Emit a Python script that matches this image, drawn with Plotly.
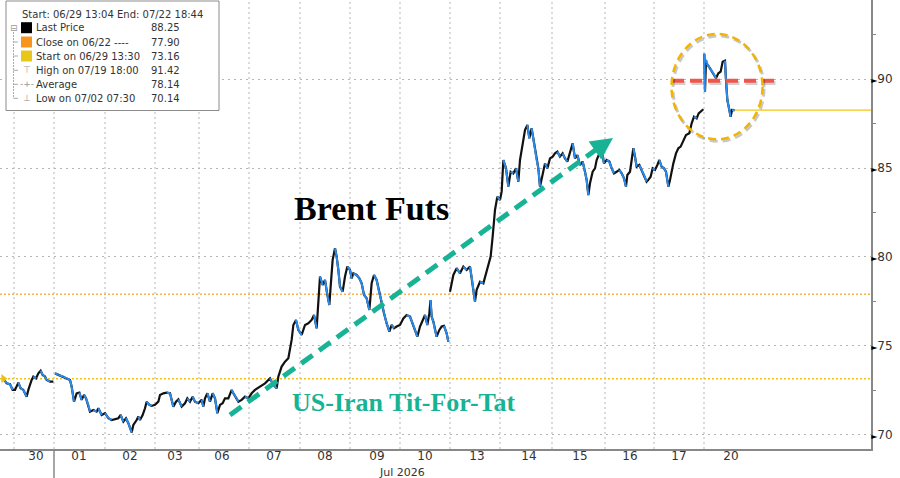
import plotly.graph_objects as go

# ---- data (trading-day position, price) ----
# day boundaries sit on integers: 30 -> [0,1), 01 -> [1,2) ... 20 -> [14,15)
t_jun30 = [-0.013, 0.053, 0.12, 0.173, 0.22, 0.287, 0.333, 0.387, 0.453, 0.487,
           0.553, 0.587, 0.64, 0.687, 0.733, 0.773, 0.82, 0.853, 0.92, 0.987]
p_jun30 = [73.16, 72.90, 72.85, 72.53, 72.53, 72.94, 72.62, 72.53, 72.15, 72.53,
           73.09, 73.28, 73.18, 73.46, 73.61, 73.37, 73.28, 73.09, 73.00, 73.00]

t_wk1 = [1.02, 1.087, 1.187, 1.253, 1.32, 1.353, 1.40, 1.453, 1.507, 1.553,
         1.60, 1.64, 1.687, 1.72, 1.787, 1.853, 1.887, 1.953, 2.02, 2.087,
         2.153, 2.22, 2.287, 2.333, 2.387, 2.44, 2.487, 2.553, 2.587, 2.653,
         2.687, 2.72, 2.773, 2.82, 2.853, 2.907, 2.953, 3.02, 3.087, 3.12,
         3.187, 3.253, 3.32, 3.353, 3.387, 3.44, 3.487, 3.553, 3.62, 3.667,
         3.72, 3.773, 3.82, 3.887, 3.953, 3.987, 4.02, 4.067, 4.12, 4.173,
         4.22, 4.267, 4.32, 4.373, 4.42, 4.487, 4.553, 4.587, 4.653, 4.687,
         4.753, 4.82, 4.887, 4.953, 5.02, 5.12, 5.22, 5.32, 5.387, 5.453,
         5.487, 5.553, 5.62, 5.687, 5.72, 5.753, 5.787, 5.84, 5.887, 5.953,
         6.02, 6.087, 6.153, 6.20, 6.253, 6.287, 6.32, 6.373, 6.42, 6.467,
         6.507, 6.533, 6.573, 6.62, 6.653, 6.687, 6.72, 6.773, 6.82, 6.867,
         6.92, 6.953, 6.987, 7.053, 7.107, 7.153, 7.20, 7.253, 7.307, 7.353,
         7.40, 7.453, 7.507, 7.553, 7.60, 7.653, 7.707, 7.753, 7.80, 7.853,
         7.92, 7.987, 8.053, 8.12, 8.173, 8.22, 8.267, 8.32, 8.373, 8.42,
         8.467, 8.507, 8.53, 8.553, 8.587, 8.62, 8.653, 8.707, 8.753, 8.80,
         8.853, 8.887]
p_wk1 = [73.46, 73.37, 73.28, 73.18, 73.09, 72.72, 71.87, 72.34, 72.38, 71.97,
         72.25, 72.06, 71.69, 71.31, 71.40, 71.31, 71.50, 71.12, 71.22, 70.94,
         70.84, 70.88, 70.94, 71.12, 70.75, 70.94, 70.66, 70.14, 70.56, 70.84,
         71.03, 70.84, 71.12, 71.50, 71.87, 71.69, 71.63, 71.69, 71.87, 72.25,
         72.34, 72.38, 72.34, 71.97, 71.59, 71.87, 72.00, 71.59, 71.78, 72.06,
         71.87, 72.15, 71.87, 71.78, 71.97, 71.59, 72.06, 72.34, 71.87, 72.34,
         72.06, 71.22, 71.69, 71.78, 72.06, 72.06, 72.53, 72.34, 72.06, 71.87,
         71.97, 72.15, 72.06, 72.34, 72.53, 72.72, 72.90, 73.18, 72.81, 72.62,
         73.28, 73.84, 74.12, 74.31, 74.78, 75.34, 76.18, 76.46, 75.90, 75.62,
         76.18, 76.27, 76.46, 76.74, 75.99, 77.68, 78.90, 78.43, 78.71, 77.87,
         77.30, 78.33, 79.83, 80.49, 80.02, 79.27, 78.33, 78.05, 78.90, 79.46,
         79.27, 78.80, 79.08, 78.99, 78.80, 78.52, 77.87, 77.68, 77.02, 78.52,
         78.99, 78.71, 77.96, 77.49, 76.84, 76.27, 75.81, 76.18, 75.99, 76.09,
         76.18, 76.55, 76.74, 76.65, 76.27, 75.90, 75.52, 76.09, 76.46, 76.74,
         76.18, 76.84, 77.58, 76.65, 76.37, 75.90, 75.52, 75.90, 76.09, 76.13,
         75.71, 75.24]

t_wk2 = [8.92, 8.987, 9.053, 9.12, 9.187, 9.253, 9.32, 9.353, 9.387, 9.42,
         9.453, 9.52, 9.587, 9.64, 9.687, 9.733, 9.773, 9.82, 9.867, 9.92,
         9.953, 9.987, 10.04, 10.087, 10.133, 10.187, 10.24, 10.287, 10.32, 10.373,
         10.42, 10.467, 10.507, 10.553, 10.60, 10.653, 10.687, 10.72, 10.773, 10.82,
         10.867, 10.92, 10.973, 11.02, 11.067, 11.12, 11.173, 11.22, 11.267, 11.32,
         11.373, 11.42, 11.467, 11.52, 11.573, 11.62, 11.653, 11.687, 11.72, 11.773,
         11.82, 11.853, 11.907, 11.953, 12.0, 12.053, 12.107, 12.153, 12.20, 12.253,
         12.307, 12.353, 12.40, 12.44, 12.467, 12.52, 12.553, 12.587, 12.62, 12.653,
         12.707, 12.753, 12.80, 12.853, 12.887, 12.933, 12.973, 13.02, 13.067, 13.107,
         13.153, 13.20, 13.24, 13.287, 13.32, 13.353, 13.387, 13.44, 13.487, 13.533,
         13.587, 13.64, 13.707, 13.753, 13.80, 13.853, 13.893, 13.933, 13.987]
p_wk2 = [78.05, 78.99, 79.37, 79.08, 79.46, 79.27, 79.46, 78.89, 78.15, 77.49,
         78.15, 78.61, 78.52, 79.08, 79.46, 80.02, 81.14, 82.64, 83.39, 83.20,
         83.67, 85.45, 84.98, 83.95, 84.79, 84.70, 84.98, 84.23, 85.45, 86.29,
         87.13, 87.42, 86.67, 87.23, 86.39, 85.45, 84.98, 83.95, 84.61, 85.26,
         84.98, 85.54, 85.64, 85.82, 85.92, 85.64, 85.82, 85.54, 85.36, 85.82,
         86.39, 85.54, 85.73, 85.17, 85.36, 84.79, 84.33, 83.48, 84.14, 84.79,
         84.98, 85.45, 85.82, 86.01, 85.26, 85.45, 85.36, 84.98, 84.70, 84.79,
         84.89, 84.70, 84.42, 83.95, 84.61, 84.79, 85.45, 86.11, 85.64, 85.07,
         85.17, 84.89, 84.61, 84.23, 84.33, 84.51, 84.98, 84.89, 85.17, 85.45,
         85.07, 84.98, 84.79, 83.95, 84.33, 84.89, 85.26, 85.82, 86.11, 86.20,
         86.57, 86.85, 86.95, 87.51, 87.88, 87.79, 88.07, 88.17, 88.30]

t_jul20 = [14.007, 14.02, 14.04, 14.053, 14.12, 14.187, 14.24, 14.287, 14.333, 14.373,
           14.42, 14.44, 14.467, 14.507, 14.533, 14.56, 14.613]
p_jul20 = [91.42, 89.29, 91.07, 90.88, 90.60, 90.32, 90.04, 90.32, 90.41, 90.97,
           91.03, 89.94, 88.82, 88.26, 87.88, 88.26, 88.25]

last_price = 88.25
close_0622 = 77.90
start_0629 = 73.16

day_labels = ["30", "01", "02", "03", "06", "07", "08", "09", "10",
              "13", "14", "15", "16", "17", "20"]
label_pos = [0.64, 1.5, 2.52, 3.42, 4.36, 5.4, 6.42, 7.46, 8.42,
             9.46, 10.5, 11.52, 12.52, 13.5, 14.54]
day_grid = [0.2, 1.0, 2.02, 3.02, 3.9, 4.9, 5.92, 6.92, 7.92,
            8.92, 9.92, 10.96, 12.02, 13.0, 14.0]

legend_labels = ["Last Price", "Close on 06/22 ----", "Start on 06/29 13:30",
                 "High on 07/19 18:00", "Average", "Low on 07/02 07:30"]
legend_values = ["88.25", "77.90", "73.16", "91.42", "78.14", "70.14"]

y_ticks = [70, 75, 80, 85, 90]
X_MIN, X_MAX = -0.08, 17.34
Y_MIN, Y_MAX = 69.21, 94.44

# join segments with breaks
t_all, p_all = [], []
for ts, ps in [(t_jun30, p_jun30), (t_wk1, p_wk1), (t_wk2, p_wk2), (t_jul20, p_jul20)]:
    t_all += ts + [None]
    p_all += ps + [None]

# down moves drawn in blue on top of black
t_dn, p_dn = [], []
for i in range(len(t_all) - 1):
    if p_all[i] is None or p_all[i + 1] is None:
        continue
    if p_all[i + 1] < p_all[i]:
        t_dn += [t_all[i], t_all[i + 1], None]
        p_dn += [p_all[i], p_all[i + 1], None]

BLUE = "#2a8df0"
TEAL = "#17b394"
fig = go.Figure()

fig.add_trace(go.Scatter(x=t_all, y=p_all, mode="lines",
                         line=dict(color="#111111", width=2.2), hoverinfo="skip"))
fig.add_trace(go.Scatter(x=t_dn, y=p_dn, mode="lines",
                         line=dict(color=BLUE, width=2.0), hoverinfo="skip"))
fig.add_trace(go.Scatter(x=[t_jun30[0]], y=[start_0629], mode="markers",
                         marker=dict(symbol="triangle-right", size=8, color="#e8c21a"),
                         hoverinfo="skip"))

# plot-area pixel helpers (plot area is 871 x 449 px)
PW, PH = 871.0, 449.0
def px(x):
    return x / PW
def py(y):
    return 1 - y / PH

shapes = []
# vertical day grid
for g in day_grid:
    shapes.append(dict(type="line", xref="x", yref="paper", x0=g, x1=g, y0=0, y1=1,
                       line=dict(color="#b5b5b5", width=1, dash="2px,3px"), layer="below"))
# month separator below the axis
shapes.append(dict(type="line", xref="x", yref="paper", x0=1.0, x1=1.0, y0=0, y1=-0.07,
                   line=dict(color="#888888", width=1.5)))
# reference lines
shapes.append(dict(type="line", xref="paper", yref="y", x0=0, x1=1, y0=close_0622, y1=close_0622,
                   line=dict(color="#f7b24a", width=1.5, dash="2px,2px"), layer="below"))
shapes.append(dict(type="line", xref="paper", yref="y", x0=0, x1=1, y0=start_0629, y1=start_0629,
                   line=dict(color="#f0c419", width=1.5, dash="2px,2px"), layer="below"))
shapes.append(dict(type="line", xref="x", yref="y", x0=t_jul20[-1], x1=X_MAX,
                   y0=last_price, y1=last_price, line=dict(color="#f5c518", width=1.2)))

# red dashed level + shadow
shapes.append(dict(type="line", xref="x", yref="y", x0=13.39, x1=15.49, y0=89.78, y1=89.78,
                   line=dict(color="rgba(0,0,0,0.18)", width=4, dash="12px,6px")))
shapes.append(dict(type="line", xref="x", yref="y", x0=13.36, x1=15.46, y0=89.9, y1=89.9,
                   line=dict(color="#f0564a", width=4, dash="12px,6px")))
# golden circle + shadow
shapes.append(dict(type="circle", xref="x", yref="y", x0=13.38, x1=15.2, y0=86.5, y1=92.42,
                   line=dict(color="rgba(0,0,0,0.22)", width=3, dash="8px,5px")))
shapes.append(dict(type="circle", xref="x", yref="y", x0=13.35, x1=15.17, y0=86.61, y1=92.53,
                   line=dict(color="#f2b400", width=2.5, dash="8px,5px")))
# green dashed arrow shaft
shapes.append(dict(type="line", xref="x", yref="y", x0=4.52, y0=71.12, x1=11.95, y1=86.25,
                   line=dict(color=TEAL, width=5, dash="14px,8px")))

# legend box
shapes.append(dict(type="rect", xref="paper", yref="paper", x0=px(6), x1=px(219),
                   y0=py(110.5), y1=py(1), fillcolor="white",
                   line=dict(color="#8a8a8a", width=1)))
row_y = [27.7, 42, 56, 70.3, 84.3, 98.3]
sq_colors = ["#000000", "#f7941d", "#e8c61a"]
for i, c in enumerate(sq_colors):
    shapes.append(dict(type="rect", xref="paper", yref="paper", x0=px(21), x1=px(32),
                       y0=py(row_y[i] + 5.5), y1=py(row_y[i] - 5.5), fillcolor=c,
                       line=dict(width=0)))
# tree lines
shapes.append(dict(type="line", xref="paper", yref="paper", x0=px(13.5), x1=px(13.5),
                   y0=py(32), y1=py(98.3), line=dict(color="#aaaaaa", width=1, dash="2px,1px")))
for ry in row_y[1:]:
    shapes.append(dict(type="line", xref="paper", yref="paper", x0=px(13.5), x1=px(18),
                       y0=py(ry), y1=py(ry), line=dict(color="#aaaaaa", width=1)))

annotations = []
LFONT = dict(family="DejaVu Sans", size=10, color="#333333")
annotations.append(dict(xref="paper", yref="paper", x=px(20), y=py(14),
                        text="Start: 06/29 13:04 End: 07/22 18:44", showarrow=False,
                        xanchor="left", yanchor="middle", font=LFONT))
for i, (lab, val) in enumerate(zip(legend_labels, legend_values)):
    annotations.append(dict(xref="paper", yref="paper", x=px(34), y=py(row_y[i]), text=lab,
                            showarrow=False, xanchor="left", yanchor="middle", font=LFONT))
    annotations.append(dict(xref="paper", yref="paper", x=px(149), y=py(row_y[i]), text=val,
                            showarrow=False, xanchor="left", yanchor="middle", font=LFONT))
icons = ["⊤", "-+-", "⊥"]
for i, ic in enumerate(icons):
    annotations.append(dict(xref="paper", yref="paper", x=px(26.5), y=py(row_y[i + 3]), text=ic,
                            showarrow=False, xanchor="center", yanchor="middle",
                            font=dict(family="DejaVu Sans", size=9, color="#999999")))
annotations.append(dict(xref="paper", yref="paper", x=px(13.5), y=py(27.7), text="⊟",
                        showarrow=False, xanchor="center", yanchor="middle",
                        font=dict(family="DejaVu Sans", size=9, color="#999999")))

# chart texts
annotations.append(dict(xref="x", yref="y", x=7.34, y=82.7, text="<b>Brent Futs</b>",
                        showarrow=False, font=dict(family="Liberation Serif", size=34, color="black")))
annotations.append(dict(xref="x", yref="y", x=7.99, y=71.82, text="<b>US-Iran Tit-For-Tat</b>",
                        showarrow=False, font=dict(family="Liberation Serif", size=26, color=TEAL)))
# arrow head
annotations.append(dict(xref="x", yref="y", axref="x", ayref="y", x=12.18, y=86.69,
                        ax=11.8, ay=85.95, text="", showarrow=True, arrowhead=2,
                        arrowsize=1.1, arrowwidth=4, arrowcolor=TEAL, standoff=0))
annotations.append(dict(xref="x", yref="paper", x=7.96, y=py(464), text="Jul 2026",
                        showarrow=False, xanchor="center", yanchor="top",
                        font=dict(family="DejaVu Sans", size=11, color="#333333")))

# price labels with the small black pointer in front
y_text = ['<span style="color:black;font-size:8px">►</span>%d' % v for v in y_ticks]

fig.update_layout(
    width=900, height=478,
    margin=dict(l=0, r=29, t=0, b=29),
    paper_bgcolor="white", plot_bgcolor="white",
    showlegend=False,
    shapes=shapes,
    annotations=annotations,
    xaxis=dict(range=[X_MIN, X_MAX], showgrid=False, zeroline=False,
               showline=True, linecolor="#888888", linewidth=1.5,
               tickmode="array", tickvals=label_pos, ticktext=day_labels, ticks="",
               ticklabelstandoff=-5,
               tickfont=dict(family="DejaVu Sans", size=12, color="#333333")),
    yaxis=dict(range=[Y_MIN, Y_MAX], side="right", zeroline=False,
               showgrid=True, gridcolor="#b5b5b5", griddash="2px,4px", gridwidth=1,
               showline=True, linecolor="#888888", linewidth=1.5,
               tickmode="array", tickvals=y_ticks, ticktext=y_text, ticks="",
               ticklabelstandoff=-4,
               tickfont=dict(family="DejaVu Sans", size=12, color="#333333"),
               minor=dict(tickvals=[72.5, 77.5, 82.5, 87.5, 92.5], ticks="outside",
                          ticklen=3, tickcolor="#888888", showgrid=False)),
)

fig.write_html("out.html", config={"displayModeBar": False},
               post_script="document.body.style.margin='0';")
